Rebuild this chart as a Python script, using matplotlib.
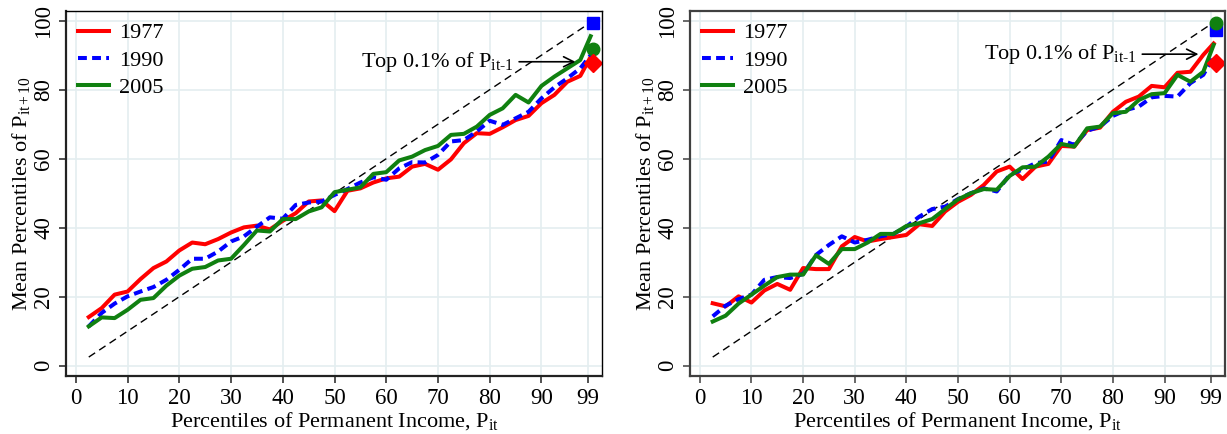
import matplotlib
matplotlib.use("Agg")
import matplotlib.pyplot as plt

plt.rcParams['font.family'] = ['Liberation Serif', 'DejaVu Serif']
plt.rcParams['mathtext.fontset'] = 'custom'
plt.rcParams['mathtext.rm'] = 'Liberation Serif'
plt.rcParams['mathtext.it'] = 'Liberation Serif:italic'

# percentile groups of permanent income
pct = [2.5, 5, 7.5, 10, 12.5, 15, 17.5, 20, 22.5, 25, 27.5, 30, 32.5, 35, 37.5, 40,
       42.5, 45, 47.5, 50, 52.5, 55, 57.5, 60, 62.5, 65, 67.5, 70, 72.5, 75, 77.5, 80,
       82.5, 85, 87.5, 90, 92.5, 95, 97.5, 99.5]
years = ['1977', '1990', '2005']

# left panel
left_1977 = [14.1, 16.7, 20.6, 21.5, 25.1, 28.3, 30.2, 33.4, 35.7, 35.2, 36.7, 38.6, 40.1, 40.6, 39.5, 42.0,
             44.2, 47.6, 47.9, 44.8, 50.7, 51.4, 53.1, 54.3, 54.8, 57.7, 58.5, 56.8, 59.8, 64.5, 67.4, 67.2,
             69.1, 71.2, 72.4, 76.1, 78.5, 82.3, 84.0, 89.5]
left_1990 = [11.4, 15.3, 18.0, 20.1, 21.5, 22.8, 24.9, 27.8, 31.0, 31.0, 33.1, 36.0, 37.5, 40.3, 43.0, 42.6,
             46.6, 47.3, 47.6, 49.5, 51.2, 53.1, 54.6, 53.9, 57.2, 59.0, 58.9, 61.1, 65.0, 65.4, 67.9, 71.0,
             69.8, 71.7, 73.6, 77.5, 80.7, 83.3, 86.2, 90.0]
left_2005 = [11.4, 14.0, 13.8, 16.2, 19.1, 19.6, 23.2, 26.1, 28.1, 28.6, 30.5, 31.0, 35.0, 39.2, 38.9, 42.5,
             42.5, 44.7, 45.9, 50.3, 51.0, 51.7, 55.6, 56.1, 59.5, 60.6, 62.5, 63.7, 66.9, 67.2, 69.3, 72.7,
             74.6, 78.5, 76.3, 81.1, 83.8, 86.2, 88.6, 95.5]
left_top = {'1977': 87.7, '1990': 99.2, '2005': 91.7}

# right panel
right_1977 = [18.1, 17.2, 20.1, 18.3, 21.8, 23.7, 22.0, 28.3, 28.0, 28.0, 34.6, 37.3, 36.0, 36.7, 37.3, 37.9,
              41.0, 40.5, 44.7, 47.5, 49.5, 52.4, 56.3, 57.7, 54.1, 57.7, 58.5, 63.7, 63.5, 68.3, 69.0, 73.6,
              76.5, 78.0, 81.1, 80.7, 84.9, 85.2, 90.1, 93.4]
right_1990 = [14.3, 17.4, 19.3, 20.6, 24.9, 25.7, 25.4, 26.6, 32.1, 35.0, 37.5, 35.7, 36.5, 37.5, 38.2, 40.3,
              43.2, 45.4, 46.1, 48.3, 50.0, 51.4, 50.5, 55.3, 56.9, 58.7, 59.2, 65.4, 64.0, 68.1, 69.3, 72.4,
              74.1, 75.1, 77.8, 78.2, 78.0, 81.9, 84.3, 89.6]
right_2005 = [12.8, 14.5, 18.0, 20.6, 23.2, 25.7, 26.4, 26.4, 32.0, 29.5, 33.8, 33.8, 35.7, 38.2, 38.2, 40.5,
              41.3, 42.5, 45.4, 48.2, 50.0, 51.2, 51.0, 55.0, 57.5, 57.7, 60.6, 64.3, 63.5, 68.8, 69.3, 73.2,
              73.6, 77.0, 78.7, 79.0, 84.3, 82.3, 85.2, 93.0]
right_top = {'1977': 87.8, '1990': 97.3, '2005': 99.2}

top_x = 100
diag = [2.5, 99.5]
xticks = [0, 10, 20, 30, 40, 50, 60, 70, 80, 90, 99]
yticks = [0, 20, 40, 60, 80, 100]

colors = {'1977': '#ff0000', '1990': '#0000ff', '2005': '#108010'}
styles = {'1977': '-', '1990': (0, (2.2, 1.3)), '2005': '-'}
markers = {'1977': 'D', '1990': 's', '2005': 'o'}
msizes = {'1977': 9, '1990': 9, '2005': 9}


def draw_panel(ax, series, top, arrow_y, spine_col, box_col):
	ax.grid(True, color='#e4eef0', lw=1.2)
	ax.set_axisbelow(True)
	ax.plot(diag, diag, color='black', lw=1.0, ls=(0, (5.5, 3.5)))
	for yr, vals in zip(years, series):
		ax.plot(pct, vals, color=colors[yr], ls=styles[yr], lw=2.9, label=yr)
	for yr in ['1990', '2005', '1977']:
		ax.plot([top_x], [top[yr]], marker=markers[yr], color=colors[yr], ms=msizes[yr], ls='none')
	ax.annotate('Top 0.1% of P$_{\\mathrm{it\u20101}}$', xy=(97.1, arrow_y), xytext=(84.6, arrow_y),
				ha='right', va='center', fontsize=16,
				arrowprops=dict(arrowstyle='->', color='black', lw=1.2, mutation_scale=18))
	ax.set_xlim(-1.9, 101.7)
	ax.set_ylim(-2.9, 102.9)
	ax.set_xticks(xticks)
	ax.set_yticks(yticks)
	ax.tick_params(axis='both', direction='out', length=5, width=1.1, colors=spine_col,
				   labelcolor='black', labelsize=16.5)
	for lab in ax.get_yticklabels():
		lab.set_rotation(90)
		lab.set_va('center')
	for s in ['left', 'bottom']:
		ax.spines[s].set_linewidth(1.6)
		ax.spines[s].set_color(spine_col)
	for s in ['top', 'right']:
		ax.spines[s].set_linewidth(1.0 if box_col == 'black' else 1.6)
		ax.spines[s].set_color(box_col)
	ax.set_xlabel('Percentiles of Permanent Income, P$_{\\mathrm{it}}$', fontsize=16, labelpad=1)
	ax.set_ylabel('Mean Percentiles of P$_{\\mathrm{it+10}}$', fontsize=16, labelpad=1)
	ax.legend(loc='upper left', frameon=False, fontsize=16, handlelength=1.4,
			  handletextpad=0.45, labelspacing=0.3, borderaxespad=0.15)


fig = plt.figure(figsize=(12.27, 4.34), dpi=100)
ax1 = fig.add_axes([66/1227, 58.3/434, 536/1227, 365/434])
ax2 = fig.add_axes([690/1227, 58.3/434, 535/1227, 365/434])

draw_panel(ax1, [left_1977, left_1990, left_2005], left_top, 88.1, '#222222', 'black')
draw_panel(ax2, [right_1977, right_1990, right_2005], right_top, 90.3, '#404040', '#404040')

fig.savefig('out.png', dpi=100)
